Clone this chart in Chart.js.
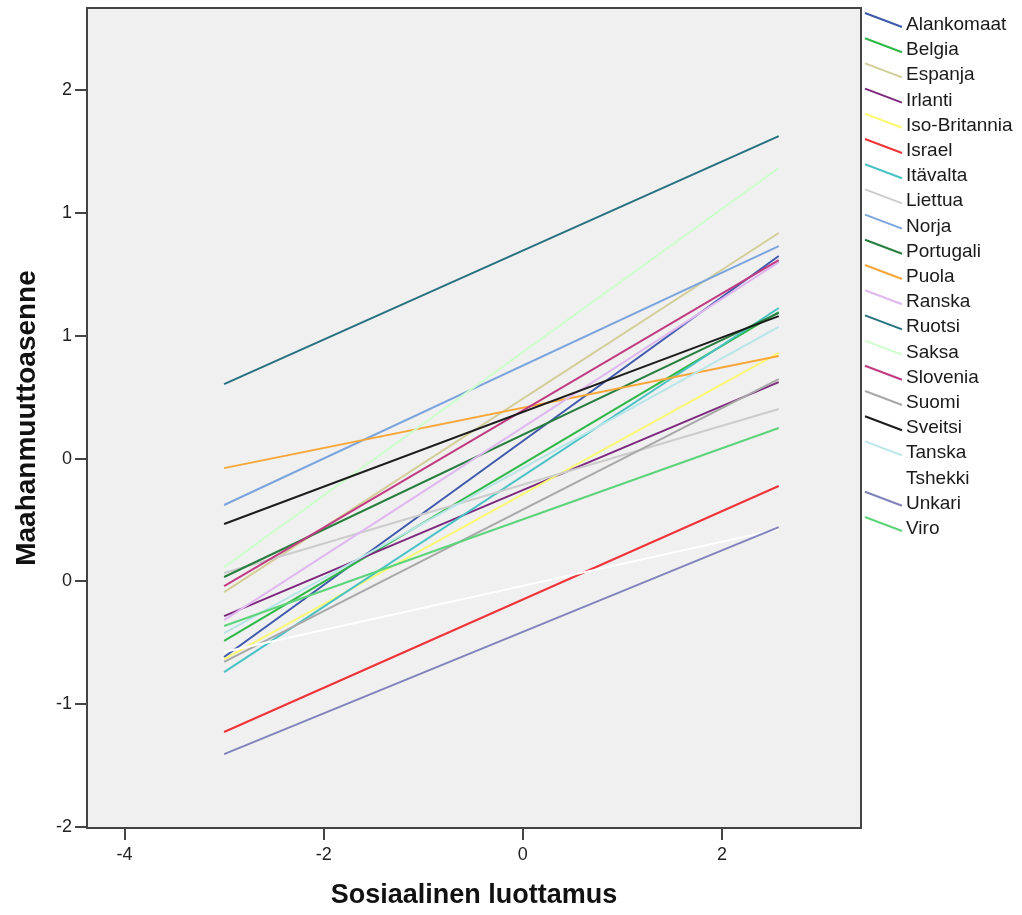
<!DOCTYPE html>
<html>
<head>
<meta charset="utf-8">
<script src="https://cdn.jsdelivr.net/npm/chart.js@4.4.1/dist/chart.umd.min.js"></script>
<style>
  body { margin: 0; background: #fff; }
  #wrap { width: 1022px; height: 915px; }
</style>
</head>
<body>
<div id="wrap"><canvas id="chart"></canvas></div>
<script>
// fit lines per country: value at the start and at the end of the x range
const countries = ["Alankomaat", "Belgia", "Espanja", "Irlanti", "Iso-Britannia", "Israel", "Itävalta",
    "Liettua", "Norja", "Portugali", "Puola", "Ranska", "Ruotsi", "Saksa", "Slovenia", "Suomi",
    "Sveitsi", "Tanska", "Tshekki", "Unkari", "Viro"];
const lineStart = -3.0;
const lineEnd = 2.57;
const valuesAtStart = [-1.077, -0.990, -0.725, -0.855, -1.088, -1.484, -1.159,
    -0.621, -0.252, -0.643, -0.052, -0.877, 0.404, -0.589, -0.692, -1.104,
    -0.355, -0.947, -1.050, -1.604, -0.909];
const valuesAtEnd = [1.099, 0.795, 1.224, 0.415, 0.573, -0.149, 0.817,
    0.269, 1.153, 0.790, 0.556, 1.066, 1.750, 1.577, 1.077, 0.431,
    0.773, 0.714, -0.383, -0.372, 0.166];
const lineColors = ["#3e58ac", "#2eb848", "#d3ce97", "#7c287d", "#fbf873", "#ef3338", "#48c2c5",
    "#cccccc", "#7ba4dd", "#277e3e", "#f9a639", "#e0b8f0", "#26707f", "#ccffcc", "#c13b82", "#a8a8a8",
    "#1c1c1c", "#b8e6e8", "#ffffff", "#8282bc", "#5dd47a"];

const xTicks = [-4, -2, 0, 2];
const yTicks = [-2, -1.333, -0.667, 0, 0.667, 1.333, 2];
const yTickLabels = ["-2", "-1", "0", "0", "1", "1", "2"];

const FONT = "'Liberation Sans', Arial, sans-serif";

const datasets = countries.map((name, i) => ({
    label: name,
    data: [{ x: lineStart, y: valuesAtStart[i] }, { x: lineEnd, y: valuesAtEnd[i] }],
    borderColor: lineColors[i],
    borderWidth: 2,
    pointRadius: 0,
    showLine: true,
    order: -i
}));

// grey plot background and frame
const plotFrame = {
    id: "plotFrame",
    beforeDraw(chart) {
        const { ctx, chartArea: a } = chart;
        ctx.save();
        ctx.fillStyle = "#fff";
        ctx.fillRect(0, 0, chart.width, chart.height);
        ctx.fillStyle = "#f0f0f0";
        ctx.fillRect(a.left, a.top, a.right - a.left, a.bottom - a.top);
        ctx.restore();
    },
    afterDraw(chart) {
        const { ctx, chartArea: a } = chart;
        ctx.save();
        ctx.strokeStyle = "#444";
        ctx.lineWidth = 2;
        ctx.strokeRect(a.left, a.top, a.right - a.left, a.bottom - a.top);
        ctx.restore();
    }
};

// SPSS style legend with slanted line samples
const sideLegend = {
    id: "sideLegend",
    afterDraw(chart) {
        const ctx = chart.ctx;
        const x0 = chart.chartArea.right + 4;
        ctx.save();
        ctx.font = "19px " + FONT;
        ctx.textBaseline = "alphabetic";
        chart.data.datasets.forEach((ds, i) => {
            const base = 30 + i * 25.2;
            ctx.strokeStyle = ds.borderColor;
            ctx.lineWidth = 2;
            ctx.beginPath();
            ctx.moveTo(x0, base - 17);
            ctx.lineTo(x0 + 37, base - 3);
            ctx.stroke();
            ctx.fillStyle = "#1a1a1a";
            ctx.fillText(ds.label, x0 + 41, base);
        });
        ctx.restore();
    }
};

const noPad = s => { s.paddingTop = 0; s.paddingBottom = 0; s.paddingLeft = 0; s.paddingRight = 0; };

new Chart(document.getElementById("chart"), {
    type: "scatter",
    data: { datasets },
    plugins: [plotFrame, sideLegend],
    options: {
        responsive: true,
        maintainAspectRatio: false,
        animation: false,
        layout: { padding: { top: 8, right: 161, left: 0, bottom: 0 } },
        plugins: { legend: { display: false }, tooltip: { enabled: false } },
        scales: {
            x: {
                type: "linear",
                min: -4.377,
                max: 3.396,
                afterBuildTicks: s => { s.ticks = xTicks.map(v => ({ value: v })); },
                afterFit: s => { s.height = 87; noPad(s); },
                grid: { drawOnChartArea: false, tickLength: 12, color: "#444", lineWidth: 2 },
                border: { display: false },
                ticks: { font: { family: FONT, size: 18 }, color: "#222", padding: 4, maxRotation: 0 },
                title: {
                    display: true, text: "Sosiaalinen luottamus", color: "#111",
                    font: { family: FONT, size: 27, weight: "bold" }, padding: { top: 0, bottom: 3 }
                }
            },
            y: {
                type: "linear",
                min: -2.005,
                max: 2.445,
                afterBuildTicks: s => { s.ticks = yTicks.map(v => ({ value: v })); },
                afterFit: s => { s.width = 87; noPad(s); },
                grid: { drawOnChartArea: false, tickLength: 12, color: "#444", lineWidth: 2 },
                border: { display: false },
                ticks: {
                    font: { family: FONT, size: 18 }, color: "#222", padding: 3,
                    callback: (v, i) => yTickLabels[i]
                },
                title: {
                    display: true, text: "Maahanmuuttoasenne", color: "#111",
                    font: { family: FONT, size: 28, weight: "bold" }, padding: { top: 10, bottom: 0 }
                }
            }
        }
    }
});
</script>
</body>
</html>
